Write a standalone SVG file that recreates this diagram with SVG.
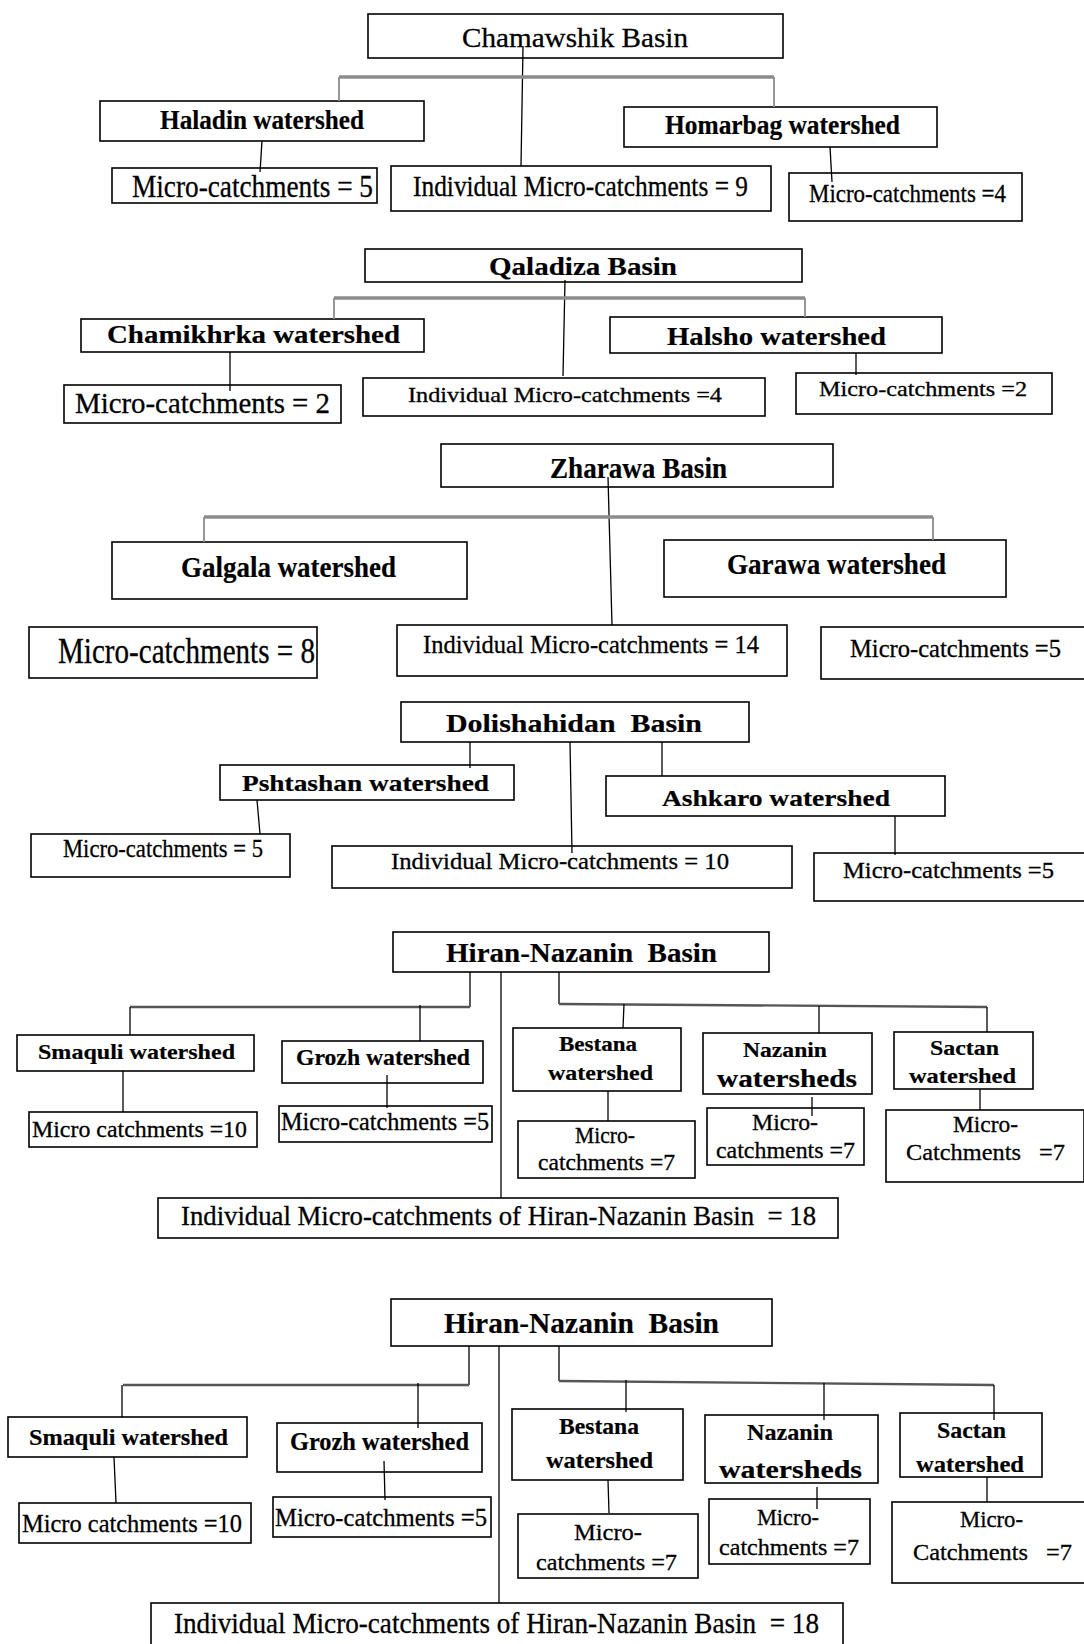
<svg xmlns="http://www.w3.org/2000/svg" width="1084" height="1644" viewBox="0 0 1084 1644">
<style>
rect.box{fill:#fff;stroke:#000;stroke-width:1.6}
text{font-family:"Liberation Serif","Times New Roman",serif;fill:#000;stroke:#000;stroke-width:0.3}
text.b{font-weight:bold;stroke-width:0.2}
.c line{stroke:#000;stroke-width:1.3;fill:none}
.c line.g{stroke:#8c8c8c;stroke-width:3.4}
.c line.gd{stroke:#8c8c8c;stroke-width:1.8}
.c line.h{stroke:#555;stroke-width:2.4}
</style>
<rect x="0" y="0" width="1084" height="1644" fill="#fff"/>

<!-- Section 1 -->
<g id="n_chamawshik"><rect class="box" x="368" y="14" width="415" height="44"/><text x="462" y="47" font-size="28" textLength="226" lengthAdjust="spacingAndGlyphs">Chamawshik Basin</text></g>
<g id="n_haladin"><rect class="box" x="100" y="101" width="324" height="40"/><text class="b" x="160" y="129" font-size="28" textLength="204" lengthAdjust="spacingAndGlyphs">Haladin watershed</text></g>
<g id="n_homarbag"><rect class="box" x="624" y="107" width="313" height="40"/><text class="b" x="665" y="134" font-size="27" textLength="235" lengthAdjust="spacingAndGlyphs">Homarbag watershed</text></g>
<g id="n_haladin_mc"><rect class="box" x="112" y="168" width="265" height="35"/><text x="132" y="197" font-size="32" textLength="241" lengthAdjust="spacingAndGlyphs">Micro-catchments = 5</text></g>
<g id="n_chamawshik_ind"><rect class="box" x="391" y="166" width="380" height="45"/><text x="413" y="196" font-size="30" textLength="335" lengthAdjust="spacingAndGlyphs">Individual Micro-catchments = 9</text></g>
<g id="n_homarbag_mc"><rect class="box" x="789" y="173" width="233" height="48"/><text x="809" y="202" font-size="25" textLength="197" lengthAdjust="spacingAndGlyphs">Micro-catchments =4</text></g>

<!-- Section 2 -->
<g id="n_qaladiza"><rect class="box" x="365" y="249" width="437" height="33"/><text class="b" x="489" y="275" font-size="26" textLength="188" lengthAdjust="spacingAndGlyphs">Qaladiza Basin</text></g>
<g id="n_chamikhrka"><rect class="box" x="81" y="319" width="343" height="33"/><text class="b" x="107" y="343" font-size="25" textLength="293" lengthAdjust="spacingAndGlyphs">Chamikhrka watershed</text></g>
<g id="n_halsho"><rect class="box" x="610" y="317" width="332" height="36"/><text class="b" x="667" y="345" font-size="25" textLength="219" lengthAdjust="spacingAndGlyphs">Halsho watershed</text></g>
<g id="n_chamikhrka_mc"><rect class="box" x="64" y="385" width="277" height="38"/><text x="75" y="413" font-size="29" textLength="255" lengthAdjust="spacingAndGlyphs">Micro-catchments = 2</text></g>
<g id="n_qaladiza_ind"><rect class="box" x="363" y="378" width="402" height="38"/><text x="408" y="402" font-size="21" textLength="314" lengthAdjust="spacingAndGlyphs">Individual Micro-catchments =4</text></g>
<g id="n_halsho_mc"><rect class="box" x="796" y="373" width="256" height="41"/><text x="819" y="396" font-size="21" textLength="208" lengthAdjust="spacingAndGlyphs">Micro-catchments =2</text></g>

<!-- Section 3 -->
<g id="n_zharawa"><rect class="box" x="441" y="444" width="392" height="43"/><text class="b" x="550" y="478" font-size="29" textLength="177" lengthAdjust="spacingAndGlyphs">Zharawa Basin</text></g>
<g id="n_galgala"><rect class="box" x="112" y="542" width="355" height="57"/><text class="b" x="181" y="577" font-size="29" textLength="215" lengthAdjust="spacingAndGlyphs">Galgala watershed</text></g>
<g id="n_garawa"><rect class="box" x="664" y="540" width="342" height="57"/><text class="b" x="727" y="574" font-size="29" textLength="219" lengthAdjust="spacingAndGlyphs">Garawa watershed</text></g>
<g id="n_galgala_mc"><rect class="box" x="29" y="627" width="288" height="51"/><text x="58" y="663" font-size="35" textLength="257" lengthAdjust="spacingAndGlyphs">Micro-catchments = 8</text></g>
<g id="n_zharawa_ind"><rect class="box" x="397" y="625" width="390" height="51"/><text x="423" y="653" font-size="26" textLength="336" lengthAdjust="spacingAndGlyphs">Individual Micro-catchments = 14</text></g>
<g id="n_garawa_mc"><rect class="box" x="821" y="627" width="264" height="52"/><text x="850" y="657" font-size="25" textLength="211" lengthAdjust="spacingAndGlyphs">Micro-catchments =5</text></g>

<!-- Section 4 -->
<g id="n_dolishahidan"><rect class="box" x="401" y="702" width="348" height="40"/><text class="b" x="446" y="732" font-size="26" textLength="256" lengthAdjust="spacingAndGlyphs" xml:space="preserve">Dolishahidan  Basin</text></g>
<g id="n_pshtashan"><rect class="box" x="220" y="765" width="294" height="35"/><text class="b" x="242" y="791" font-size="24" textLength="247" lengthAdjust="spacingAndGlyphs">Pshtashan watershed</text></g>
<g id="n_ashkaro"><rect class="box" x="606" y="776" width="339" height="40"/><text class="b" x="662" y="806" font-size="24" textLength="228" lengthAdjust="spacingAndGlyphs">Ashkaro watershed</text></g>
<g id="n_pshtashan_mc"><rect class="box" x="31" y="834" width="259" height="43"/><text x="63" y="857" font-size="25" textLength="200" lengthAdjust="spacingAndGlyphs">Micro-catchments = 5</text></g>
<g id="n_dolishahidan_ind"><rect class="box" x="332" y="846" width="460" height="42"/><text x="391" y="869" font-size="24" textLength="338" lengthAdjust="spacingAndGlyphs">Individual Micro-catchments = 10</text></g>
<g id="n_ashkaro_mc"><rect class="box" x="814" y="853" width="272" height="48"/><text x="843" y="878" font-size="23" textLength="211" lengthAdjust="spacingAndGlyphs">Micro-catchments =5</text></g>

<!-- Section 5 -->
<g id="n_hiran1"><rect class="box" x="393" y="932" width="376" height="40"/><text class="b" x="446" y="962" font-size="28" textLength="271" lengthAdjust="spacingAndGlyphs" xml:space="preserve">Hiran-Nazanin  Basin</text></g>
<g id="n_smaquli1"><rect class="box" x="17" y="1035" width="237" height="36"/><text class="b" x="38" y="1059" font-size="22" textLength="197" lengthAdjust="spacingAndGlyphs">Smaquli watershed</text></g>
<g id="n_grozh1"><rect class="box" x="282" y="1041" width="201" height="42"/><text class="b" x="296" y="1065" font-size="23" textLength="174" lengthAdjust="spacingAndGlyphs">Grozh watershed</text></g>
<g id="n_bestana1"><rect class="box" x="513" y="1028" width="168" height="63"/><text class="b" x="559" y="1051" font-size="21" textLength="78" lengthAdjust="spacingAndGlyphs">Bestana</text><text class="b" x="548" y="1080" font-size="22" textLength="105" lengthAdjust="spacingAndGlyphs">watershed</text></g>
<g id="n_nazanin1"><rect class="box" x="703" y="1033" width="169" height="61"/><text class="b" x="743" y="1057" font-size="22" textLength="84" lengthAdjust="spacingAndGlyphs">Nazanin</text><text class="b" x="717" y="1087" font-size="25" textLength="140" lengthAdjust="spacingAndGlyphs">watersheds</text></g>
<g id="n_sactan1"><rect class="box" x="894" y="1032" width="139" height="57"/><text class="b" x="930" y="1055" font-size="22" textLength="69" lengthAdjust="spacingAndGlyphs">Sactan</text><text class="b" x="909" y="1083" font-size="22" textLength="107" lengthAdjust="spacingAndGlyphs">watershed</text></g>
<g id="n_smaquli1_mc"><rect class="box" x="29" y="1112" width="228" height="35"/><text x="32" y="1137" font-size="23" textLength="215" lengthAdjust="spacingAndGlyphs">Micro catchments =10</text></g>
<g id="n_grozh1_mc"><rect class="box" x="279" y="1106" width="213" height="36"/><text x="281" y="1130" font-size="25" textLength="208" lengthAdjust="spacingAndGlyphs">Micro-catchments =5</text></g>
<g id="n_bestana1_mc"><rect class="box" x="518" y="1121" width="177" height="57"/><text x="575" y="1143" font-size="23" textLength="60" lengthAdjust="spacingAndGlyphs">Micro-</text><text x="538" y="1170" font-size="23" textLength="137" lengthAdjust="spacingAndGlyphs">catchments =7</text></g>
<g id="n_nazanin1_mc"><rect class="box" x="707" y="1108" width="157" height="57"/><text x="752" y="1130" font-size="23" textLength="66" lengthAdjust="spacingAndGlyphs">Micro-</text><text x="716" y="1158" font-size="23" textLength="139" lengthAdjust="spacingAndGlyphs">catchments =7</text></g>
<g id="n_sactan1_mc"><rect class="box" x="886" y="1110" width="198" height="72"/><text x="953" y="1132" font-size="23" textLength="65" lengthAdjust="spacingAndGlyphs">Micro-</text><text x="906" y="1160" font-size="23" textLength="159" lengthAdjust="spacingAndGlyphs" xml:space="preserve">Catchments   =7</text></g>
<g id="n_hiran1_ind"><rect class="box" x="158" y="1198" width="680" height="40"/><text x="181" y="1225" font-size="27" textLength="635" lengthAdjust="spacingAndGlyphs" xml:space="preserve">Individual Micro-catchments of Hiran-Nazanin Basin  = 18</text></g>

<!-- Section 6 -->
<g id="n_hiran2"><rect class="box" x="391" y="1299" width="381" height="47"/><text class="b" x="444" y="1333" font-size="30" textLength="275" lengthAdjust="spacingAndGlyphs" xml:space="preserve">Hiran-Nazanin  Basin</text></g>
<g id="n_smaquli2"><rect class="box" x="8" y="1417" width="239" height="40"/><text class="b" x="29" y="1445" font-size="24" textLength="199" lengthAdjust="spacingAndGlyphs">Smaquli watershed</text></g>
<g id="n_grozh2"><rect class="box" x="277" y="1423" width="205" height="49"/><text class="b" x="290" y="1450" font-size="25" textLength="179" lengthAdjust="spacingAndGlyphs">Grozh watershed</text></g>
<g id="n_bestana2"><rect class="box" x="512" y="1409" width="171" height="71"/><text class="b" x="559" y="1434" font-size="23" textLength="80" lengthAdjust="spacingAndGlyphs">Bestana</text><text class="b" x="546" y="1468" font-size="23" textLength="107" lengthAdjust="spacingAndGlyphs">watershed</text></g>
<g id="n_nazanin2"><rect class="box" x="705" y="1415" width="173" height="68"/><text class="b" x="747" y="1440" font-size="24" textLength="86" lengthAdjust="spacingAndGlyphs">Nazanin</text><text class="b" x="719" y="1478" font-size="26" textLength="143" lengthAdjust="spacingAndGlyphs">watersheds</text></g>
<g id="n_sactan2"><rect class="box" x="900" y="1413" width="142" height="64"/><text class="b" x="937" y="1438" font-size="24" textLength="69" lengthAdjust="spacingAndGlyphs">Sactan</text><text class="b" x="916" y="1472" font-size="23" textLength="108" lengthAdjust="spacingAndGlyphs">watershed</text></g>
<g id="n_smaquli2_mc"><rect class="box" x="19" y="1503" width="232" height="40"/><text x="22" y="1532" font-size="25" textLength="220" lengthAdjust="spacingAndGlyphs">Micro catchments =10</text></g>
<g id="n_grozh2_mc"><rect class="box" x="273" y="1497" width="218" height="40"/><text x="275" y="1526" font-size="25" textLength="212" lengthAdjust="spacingAndGlyphs">Micro-catchments =5</text></g>
<g id="n_bestana2_mc"><rect class="box" x="518" y="1514" width="180" height="64"/><text x="574" y="1540" font-size="24" textLength="68" lengthAdjust="spacingAndGlyphs">Micro-</text><text x="536" y="1570" font-size="24" textLength="141" lengthAdjust="spacingAndGlyphs">catchments =7</text></g>
<g id="n_nazanin2_mc"><rect class="box" x="709" y="1499" width="161" height="65"/><text x="757" y="1525" font-size="23" textLength="62" lengthAdjust="spacingAndGlyphs">Micro-</text><text x="719" y="1555" font-size="23" textLength="140" lengthAdjust="spacingAndGlyphs">catchments =7</text></g>
<g id="n_sactan2_mc"><rect class="box" x="892" y="1502" width="194" height="81"/><text x="960" y="1527" font-size="23" textLength="63" lengthAdjust="spacingAndGlyphs">Micro-</text><text x="913" y="1560" font-size="23" textLength="159" lengthAdjust="spacingAndGlyphs" xml:space="preserve">Catchments   =7</text></g>
<g id="n_hiran2_ind"><rect class="box" x="151" y="1603" width="692" height="45"/><text x="174" y="1633" font-size="30" textLength="645" lengthAdjust="spacingAndGlyphs" xml:space="preserve">Individual Micro-catchments of Hiran-Nazanin Basin  = 18</text></g>

<g id="connectors" class="c">
<!-- Section 1 -->
<line x1="523" y1="47" x2="521" y2="166"/>
<line class="g" x1="339" y1="77" x2="774" y2="77"/>
<line class="gd" x1="339" y1="77" x2="339" y2="101"/>
<line class="gd" x1="774" y1="77" x2="774" y2="107"/>
<line x1="262" y1="141" x2="260" y2="172"/>
<line x1="830" y1="147" x2="832" y2="182"/>
<!-- Section 2 -->
<line x1="565" y1="280" x2="563" y2="376"/>
<line class="g" x1="334" y1="298" x2="805" y2="298"/>
<line class="gd" x1="334" y1="298" x2="334" y2="319"/>
<line class="gd" x1="805" y1="298" x2="805" y2="317"/>
<line x1="230" y1="352" x2="230" y2="391"/>
<line x1="856" y1="353" x2="856" y2="375"/>
<!-- Section 3 -->
<line x1="608" y1="477" x2="612" y2="625"/>
<line class="g" x1="204" y1="517" x2="933" y2="517"/>
<line class="gd" x1="204" y1="517" x2="204" y2="542"/>
<line class="gd" x1="933" y1="517" x2="933" y2="540"/>
<!-- Section 4 -->
<line x1="470" y1="742" x2="470" y2="768"/>
<line x1="570" y1="742" x2="572" y2="853"/>
<line x1="662" y1="742" x2="662" y2="776"/>
<line x1="257" y1="800" x2="260" y2="834"/>
<line x1="895" y1="816" x2="895" y2="855"/>
<!-- Section 5 -->
<line x1="470" y1="972" x2="470" y2="1007"/>
<line class="h" x1="130" y1="1007" x2="470" y2="1007"/>
<line x1="130" y1="1007" x2="130" y2="1035"/>
<line x1="420" y1="1005" x2="420" y2="1041"/>
<line x1="501" y1="972" x2="501" y2="1198"/>
<line x1="559" y1="972" x2="559" y2="1004"/>
<line class="h" x1="559" y1="1004" x2="987" y2="1007"/>
<line x1="624" y1="1004" x2="623" y2="1028"/>
<line x1="819" y1="1006" x2="819" y2="1033"/>
<line x1="987" y1="1007" x2="987" y2="1032"/>
<line x1="123" y1="1071" x2="123" y2="1112"/>
<line x1="387" y1="1075" x2="387" y2="1108"/>
<line x1="608" y1="1091" x2="608" y2="1121"/>
<line x1="812" y1="1097" x2="812" y2="1116"/>
<line x1="980" y1="1089" x2="980" y2="1110"/>
<!-- Section 6 -->
<line x1="469" y1="1346" x2="469" y2="1385"/>
<line class="h" x1="123" y1="1385" x2="469" y2="1385"/>
<line x1="122" y1="1385" x2="122" y2="1417"/>
<line x1="418" y1="1383" x2="418" y2="1428"/>
<line x1="499" y1="1346" x2="499" y2="1603"/>
<line x1="559" y1="1346" x2="559" y2="1381"/>
<line class="h" x1="559" y1="1381" x2="994" y2="1385"/>
<line x1="626" y1="1380" x2="626" y2="1412"/>
<line x1="824" y1="1383" x2="824" y2="1420"/>
<line x1="994" y1="1385" x2="994" y2="1420"/>
<line x1="114" y1="1457" x2="116" y2="1503"/>
<line x1="384" y1="1461" x2="385" y2="1500"/>
<line x1="608" y1="1480" x2="609" y2="1513"/>
<line x1="817" y1="1487" x2="817" y2="1509"/>
<line x1="987" y1="1477" x2="987" y2="1502"/>
</g>
</svg>
